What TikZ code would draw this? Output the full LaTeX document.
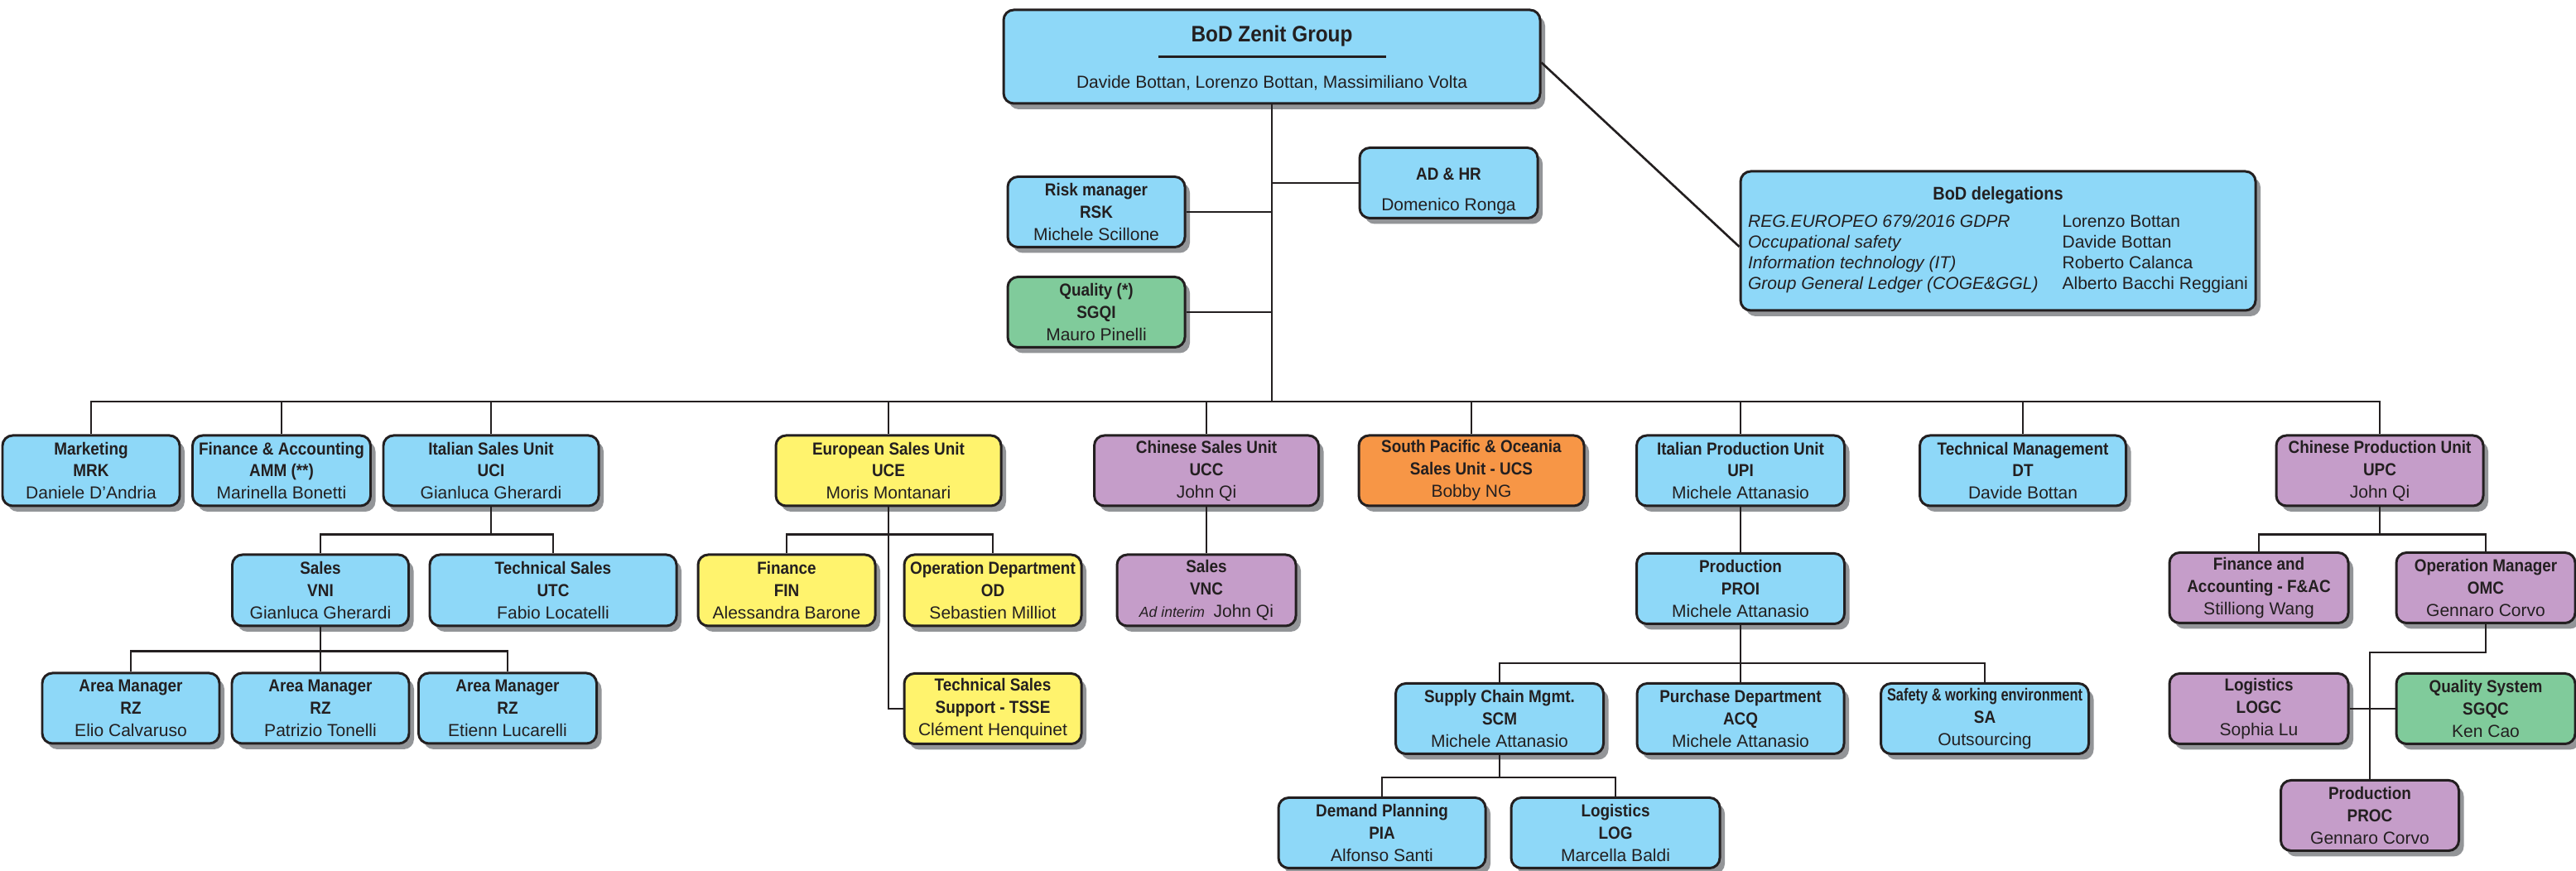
\documentclass[tikz,border=0pt]{standalone}
\usepackage{fontspec}
\setmainfont{Liberation Sans}[BoldFeatures={FakeStretch=0.9}]
\newfontfamily\tightfont{Liberation Sans}[FakeStretch=0.78]
\usetikzlibrary{shadows}

\definecolor{boxblue}{HTML}{8ED8F8}
\definecolor{boxyellow}{HTML}{FFF36D}
\definecolor{boxviolet}{HTML}{C59DC9}
\definecolor{boxorange}{HTML}{F79646}
\definecolor{boxgreen}{HTML}{80CB9B}
\definecolor{shadowgray}{HTML}{939598}
\definecolor{ink}{HTML}{231F20}

\tikzset{
  orgbox/.style={draw=ink, line width=0.85pt, rounded corners=3.5pt, align=center,
    inner sep=0pt, minimum width=2.15cm, minimum height=0.85cm, text=ink,
    font=\fontsize{5.98}{7.68}\selectfont,
    drop shadow={shadow xshift=0.06cm, shadow yshift=-0.07cm, fill=shadowgray, opacity=1}},
  bluebox/.style={orgbox, fill=boxblue},
  yellowbox/.style={orgbox, fill=boxyellow},
  violetbox/.style={orgbox, fill=boxviolet},
  orangebox/.style={orgbox, fill=boxorange},
  greenbox/.style={orgbox, fill=boxgreen},
  link/.style={draw=ink, line width=0.75pt},
}

\begin{document}
\begin{tikzpicture}

        \useasboundingbox (0,0) rectangle (31.11,-10.52);

        % board
        \node (top) [bluebox, minimum width=6.48cm, minimum height=1.13cm] at (15.36,-0.685) {};
        \node (topTitle) [font=\fontsize{7.7}{8}\selectfont\bfseries, text=ink] at ([yshift=0.25cm]top.center) {BoD Zenit Group};
        \draw[ink, line width=0.85pt] ([xshift=-1.375cm]top.center) -- ([xshift=1.375cm]top.center);
        \node (topNames) [font=\fontsize{5.98}{7.68}\selectfont, text=ink] at ([yshift=-0.32cm]top.center) {Davide Bottan, Lorenzo Bottan, Massimiliano Volta};

        \node (rsk) [bluebox, minimum width=2.14cm] at (13.24,-2.56) {\textbf{Risk manager}\\\textbf{RSK}\\Michele Scillone};
        \node (adhr) [bluebox] at (17.495,-2.21) {\begin{tabular}{@{}c@{}}\textbf{AD \& HR}\\[2.85pt]Domenico Ronga\\[-5.7pt]\end{tabular}};
        \node (sgqi) [greenbox, minimum width=2.14cm] at (13.24,-3.77) {\textbf{Quality (*)}\\\textbf{SGQI}\\Mauro Pinelli};

        \node (del) [bluebox, minimum width=6.22cm, minimum height=1.68cm] at (24.13,-2.91) {\textbf{\fontsize{6.3}{7}\selectfont BoD delegations}\\[2pt]
          \fontsize{5.98}{7.1}\selectfont
          \begin{tabular}{@{}l@{\hspace{0.29cm}}l@{}}
            \textit{REG.EUROPEO 679/2016 GDPR} & Lorenzo Bottan\\
            \textit{Occupational safety} & Davide Bottan\\
            \textit{Information technology (IT)} & Roberto Calanca\\
            \textit{Group General Ledger (COGE\&GGL)} & Alberto Bacchi Reggiani
          \end{tabular}};

        % first level
        \node (mrk) [bluebox, minimum width=2.14cm] at (1.10,-5.685) {\textbf{Marketing}\\\textbf{MRK}\\Daniele D'Andria};
        \node (amm) [bluebox] at (3.40,-5.685) {\textbf{Finance \& Accounting}\\\textbf{AMM (**)}\\Marinella Bonetti};
        \node (uci) [bluebox, minimum width=2.60cm] at (5.93,-5.685) {\textbf{Italian Sales Unit}\\\textbf{UCI}\\Gianluca Gherardi};
        \node (uce) [yellowbox, minimum width=2.72cm] at (10.73,-5.685) {\textbf{European Sales Unit}\\\textbf{UCE}\\Moris Montanari};
        \node (ucc) [violetbox, minimum width=2.71cm] at (14.57,-5.685) {\textbf{Chinese Sales Unit}\\\textbf{UCC}\\John Qi};
        \node (ucs) [orangebox, minimum width=2.72cm] at (17.77,-5.685) {\textbf{South Pacific \& Oceania}\\\textbf{Sales Unit - UCS}\\Bobby NG};
        \node (upi) [bluebox, minimum width=2.51cm] at (21.02,-5.685) {\textbf{Italian Production Unit}\\\textbf{UPI}\\Michele Attanasio};
        \node (dt) [bluebox, minimum width=2.49cm] at (24.43,-5.685) {\textbf{Technical Management}\\\textbf{DT}\\Davide Bottan};
        \node (upc) [violetbox, minimum width=2.50cm] at (28.74,-5.685) {\textbf{Chinese Production Unit}\\\textbf{UPC}\\John Qi};

        % second level
        \node (vni) [bluebox, minimum width=2.13cm, minimum height=0.86cm] at (3.87,-7.13) {\textbf{Sales}\\\textbf{VNI}\\Gianluca Gherardi};
        \node (utc) [bluebox, minimum width=2.98cm, minimum height=0.86cm] at (6.68,-7.13) {\textbf{Technical Sales}\\\textbf{UTC}\\Fabio Locatelli};
        \node (fin) [yellowbox, minimum width=2.14cm, minimum height=0.86cm] at (9.50,-7.13) {\textbf{Finance}\\\textbf{FIN}\\Alessandra Barone};
        \node (od) [yellowbox, minimum width=2.14cm, minimum height=0.86cm] at (11.99,-7.13) {\textbf{Operation Department}\\\textbf{OD}\\Sebastien Milliot};
        \node (vnc) [violetbox, minimum width=2.16cm, minimum height=0.86cm] at (14.57,-7.13) {\textbf{Sales}\\\textbf{VNC}\\{\fontsize{5}{6}\selectfont\itshape Ad interim}\enspace John Qi};
        \node (proi) [bluebox, minimum width=2.51cm] at (21.02,-7.11) {\textbf{Production}\\\textbf{PROI}\\Michele Attanasio};
        \node (fac) [violetbox, minimum width=2.16cm] at (27.28,-7.10) {\textbf{Finance and}\\\textbf{Accounting - F\&AC}\\Stilliong Wang};
        \node (omc) [violetbox, minimum width=2.16cm] at (30.02,-7.10) {\textbf{Operation Manager}\\\textbf{OMC}\\Gennaro Corvo};

        % third level
        \node (am1) [bluebox, minimum width=2.14cm] at (1.58,-8.555) {\textbf{Area Manager}\\\textbf{RZ}\\Elio Calvaruso};
        \node (am2) [bluebox, minimum width=2.14cm] at (3.87,-8.555) {\textbf{Area Manager}\\\textbf{RZ}\\Patrizio Tonelli};
        \node (am3) [bluebox] at (6.13,-8.555) {\textbf{Area Manager}\\\textbf{RZ}\\Etienn Lucarelli};
        \node (tsse) [yellowbox, minimum width=2.14cm] at (11.99,-8.56) {\textbf{Technical Sales}\\\textbf{Support - TSSE}\\Clément Henquinet};
        \node (scm) [bluebox, minimum width=2.51cm] at (18.11,-8.68) {\textbf{Supply Chain Mgmt.}\\\textbf{SCM}\\Michele Attanasio};
        \node (acq) [bluebox, minimum width=2.50cm] at (21.02,-8.68) {\textbf{Purchase Department}\\\textbf{ACQ}\\Michele Attanasio};
        \node (sa) [bluebox, minimum width=2.51cm] at (23.97,-8.68) {{\tightfont\bfseries Safety \& working environment}\\\textbf{SA}\\Outsourcing};
        \node (logc) [violetbox, minimum width=2.16cm] at (27.28,-8.56) {\textbf{Logistics}\\\textbf{LOGC}\\Sophia Lu};
        \node (sgqc) [greenbox, minimum width=2.16cm] at (30.02,-8.56) {\textbf{Quality System}\\\textbf{SGQC}\\Ken Cao};

        % fourth level
        \node (pia) [bluebox, minimum width=2.50cm] at (16.69,-10.06) {\textbf{Demand Planning}\\\textbf{PIA}\\Alfonso Santi};
        \node (log) [bluebox, minimum width=2.52cm] at (19.51,-10.06) {\textbf{Logistics}\\\textbf{LOG}\\Marcella Baldi};
        \node (proc) [violetbox] at (28.62,-9.85) {\textbf{Production}\\\textbf{PROC}\\Gennaro Corvo};

        % connectors
        \coordinate (hub) at (15.36,-4.85);
        \draw[link] (top.south) -- (hub);
        \draw[link] (rsk.east) -- (rsk.east -| hub);
        \draw[link] (sgqi.east) -- (sgqi.east -| hub);
        \draw[link] (adhr.west) -- (adhr.west -| hub);
        \draw[link] ([yshift=-0.07cm]top.east) -- ([yshift=-0.07cm]del.west);
        \foreach \n in {mrk,amm,uci,uce,ucc,ucs,upi,dt,upc}
            \draw[link] (\n.north) |- (hub);

        \draw[link] (uci.south) -- ++(0,-0.33) coordinate (uciHub);
        \foreach \n in {vni,utc} \draw[link] (uciHub) -| (\n.north);
        \draw[link] (vni.south) -- ++(0,-0.29) coordinate (vniHub);
        \foreach \n in {am1,am2,am3} \draw[link] (vniHub) -| (\n.north);

        \draw[link] (uce.south) -- ++(0,-0.33) coordinate (uceHub);
        \foreach \n in {fin,od} \draw[link] (uceHub) -| (\n.north);
        \draw[link] (uceHub) |- (tsse.west);

        \draw[link] (ucc.south) -- (vnc.north);
        \draw[link] (upi.south) -- (proi.north);
        \draw[link] (proi.south) -- ++(0,-0.46) coordinate (proiHub);
        \foreach \n in {scm,acq,sa} \draw[link] (proiHub) -| (\n.north);
        \draw[link] (scm.south) -- ++(0,-0.27) coordinate (scmHub);
        \foreach \n in {pia,log} \draw[link] (scmHub) -| (\n.north);

        \draw[link] (upc.south) -- ++(0,-0.33) coordinate (upcHub);
        \foreach \n in {fac,omc} \draw[link] (upcHub) -| (\n.north);
        \draw[link] (omc.south) -- ++(0,-0.34) -| (proc.north);
        \draw[link] (logc.east) -- (sgqc.west);

\end{tikzpicture}
\end{document}
